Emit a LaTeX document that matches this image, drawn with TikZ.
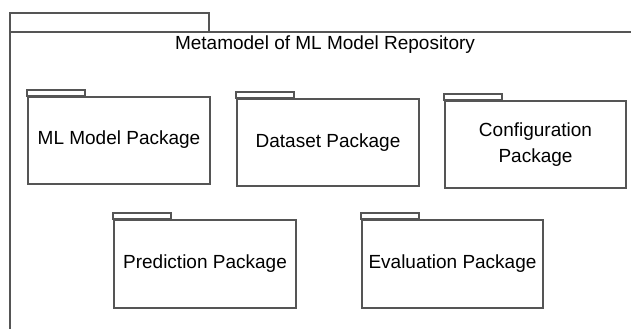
\documentclass[tikz,border=0pt]{standalone}
\usepackage{fontspec}
\setmainfont{Liberation Sans}
\usepackage{tikz}

\definecolor{pkgline}{RGB}{85,85,85}

\tikzset{
  pkg/.style={draw=pkgline, line width=2pt, minimum width=182pt, minimum height=87pt,
    inner sep=0pt, align=center, font=\fontsize{19}{26.5}\selectfont},
  pkgtab/.style={draw=pkgline, line width=2pt}
}

\begin{document}
\begin{tikzpicture}[x=1pt, y=-1pt]
      \useasboundingbox (0,0) rectangle (631,329);

      % outer package frame
      \draw[pkgtab] (10,13) rectangle (209,32);
      \draw[pkgtab] (631,32) -- (10,32) -- (10,329);
      \node (title) at (325,45) {\fontsize{19}{23}\selectfont Metamodel of ML Model Repository};

	\node[pkg] (ml) at (119,140) {ML Model Package};
	\node[pkg] (dataset) at (328,142.5) {Dataset Package};
	\node[pkg, minimum width=181pt] (config) at (535.5,144.5) {Configuration\\Package};

	\node[pkg, minimum height=88pt] (prediction) at (205,264) {Prediction Package};
	\node[pkg, minimum width=181pt, minimum height=88pt] (evaluation) at (452.5,264) {Evaluation Package};

      % tabs
      \foreach \p in {ml,dataset,config,prediction,evaluation}
        \draw[pkgtab] (\p.north west) rectangle ++(58,-6);
\end{tikzpicture}
\end{document}
